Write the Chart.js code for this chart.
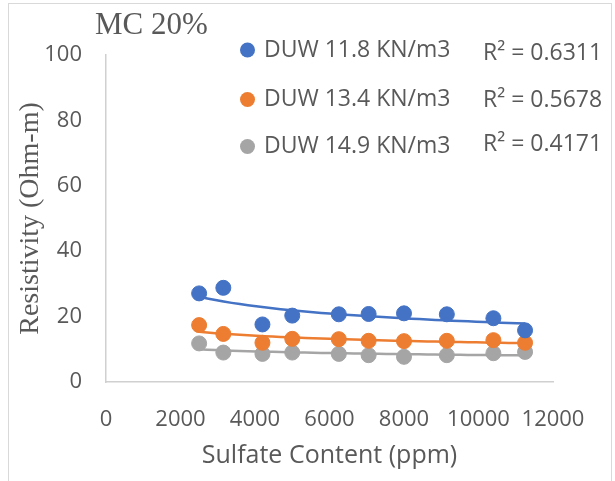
<!DOCTYPE html>
<html>
<head>
<meta charset="utf-8">
<script src="https://cdn.jsdelivr.net/npm/chart.js@4.4.1/dist/chart.umd.min.js"></script>
<style>
  html, body { margin: 0; padding: 0; background: #fff; }
  #wrap { width: 615px; height: 481px; }
</style>
</head>
<body>
<div id="wrap"><canvas id="chart" width="615" height="481"></canvas></div>
<script>
// values
const sulfate = [2500, 3150, 4200, 5000, 6250, 7050, 8000, 9150, 10400, 11250];
const duw118 = [27.1, 28.8, 17.6, 20.3, 20.7, 20.8, 21.0, 20.7, 19.5, 15.8];
const duw134 = [17.4, 14.7, 12.0, 13.2, 13.1, 12.6, 12.5, 12.6, 12.8, 12.0];
const duw149 = [11.8, 9.0, 8.6, 9.0, 8.6, 8.2, 7.7, 8.2, 8.8, 9.2];
const seriesLabels = ['DUW 11.8 KN/m3', 'DUW 13.4 KN/m3', 'DUW 14.9 KN/m3'];
const rSquared = ['R² = 0.6311', 'R² = 0.5678', 'R² = 0.4171'];
const colors = ['#4472C4', '#ED7D31', '#A5A5A5'];
const xTicks = [0, 2000, 4000, 6000, 8000, 10000, 12000];
const yTicks = [0, 20, 40, 60, 80, 100];

const textColor = '#595959';
const sans = "'Open Sans', sans-serif";
const serif = "'Liberation Serif', 'Times New Roman', serif";

// power trendline (least squares in log space, like Excel)
function powerFit(xs, ys) {
  const n = xs.length;
  let sx = 0, sy = 0, sxx = 0, sxy = 0;
  xs.forEach((x, i) => {
    const lx = Math.log(x), ly = Math.log(ys[i]);
    sx += lx; sy += ly; sxx += lx * lx; sxy += lx * ly;
  });
  const b = (n * sxy - sx * sy) / (n * sxx - sx * sx);
  const a = Math.exp((sy - b * sx) / n);
  return x => a * Math.pow(x, b);
}

function trend(ys) {
  const f = powerFit(sulfate, ys);
  const lo = Math.min(...sulfate), hi = Math.max(...sulfate);
  const pts = [];
  for (let i = 0; i <= 40; i++) {
    const x = lo + (hi - lo) * i / 40;
    pts.push({ x: x, y: f(x) });
  }
  return pts;
}

const allSeries = [duw118, duw134, duw149];
const datasets = [];
allSeries.forEach((ys, i) => {
  datasets.push({
    label: seriesLabels[i],
    data: sulfate.map((x, j) => ({ x: x, y: ys[j] })),
    backgroundColor: colors[i],
    borderColor: colors[i],
    pointRadius: 7.5,
    pointHoverRadius: 7.5,
    showLine: false,
    order: 1
  });
});
allSeries.forEach((ys, i) => {
  datasets.push({
    label: 'trend ' + seriesLabels[i],
    data: trend(ys),
    borderColor: colors[i],
    borderWidth: 2.5,
    pointRadius: 0,
    showLine: true,
    tension: 0,
    order: 2
  });
});

// title, legend and R² labels drawn on top
const overlay = {
  id: 'overlay',
  afterDraw(chart) {
    const ctx = chart.ctx;
    ctx.save();
    // frame
    ctx.strokeStyle = '#d9d9d9';
    ctx.lineWidth = 1;
    ctx.strokeRect(8.5, 3.5, 603, 500);

    ctx.fillStyle = textColor;
    ctx.textBaseline = 'middle';
    ctx.textAlign = 'left';
    ctx.font = '31px ' + serif;
    ctx.fillText('MC 20%', 95, 26);

    const rowY = [50, 99.5, 146.5];
    const rY = [53, 100, 144];
    seriesLabels.forEach((lab, i) => {
      ctx.beginPath();
      ctx.fillStyle = colors[i];
      ctx.arc(247.5, rowY[i], 7.5, 0, Math.PI * 2);
      ctx.fill();
      ctx.fillStyle = textColor;
      ctx.font = '23px ' + sans;
      ctx.fillText(lab, 264, rowY[i]);
      ctx.fillText(rSquared[i], 483, rY[i]);
    });
    ctx.restore();
  }
};

new Chart(document.getElementById('chart'), {
  type: 'scatter',
  data: { datasets: datasets },
  options: {
    responsive: false,
    animation: false,
    devicePixelRatio: 1,
    layout: { padding: { top: 55, right: 62, left: 0, bottom: 0 } },
    plugins: {
      legend: { display: false },
      tooltip: { enabled: false }
    },
    scales: {
      x: {
        type: 'linear',
        min: 0,
        max: 12000,
        afterFit: s => { s.height = 99; },
        afterBuildTicks: s => { s.ticks = xTicks.map(v => ({ value: v })); },
        grid: { display: true, drawOnChartArea: false, drawTicks: false },
        border: { display: true, color: '#d0d0d0', width: 1.5 },
        ticks: {
          color: textColor,
          font: { family: sans, size: 22 },
          padding: 25,
          maxRotation: 0,
          callback: v => String(v)
        },
        title: {
          display: true,
          text: 'Sulfate Content (ppm)',
          color: textColor,
          font: { family: sans, size: 25 },
          padding: { top: 0, bottom: 10 }
        }
      },
      y: {
        type: 'linear',
        min: 0,
        max: 100,
        afterFit: s => { s.width = 106; },
        afterBuildTicks: s => { s.ticks = yTicks.map(v => ({ value: v })); },
        grid: { display: true, drawOnChartArea: false, drawTicks: false },
        border: { display: true, color: '#d0d0d0', width: 1.5 },
        ticks: {
          color: textColor,
          font: { family: sans, size: 22 },
          padding: 24,
          callback: v => String(v)
        },
        title: {
          display: true,
          text: 'Resistivity (Ohm-m)',
          color: textColor,
          font: { family: serif, size: 28 },
          padding: { top: 14, bottom: 0 }
        }
      }
    }
  },
  plugins: [overlay]
});
</script>
</body>
</html>
